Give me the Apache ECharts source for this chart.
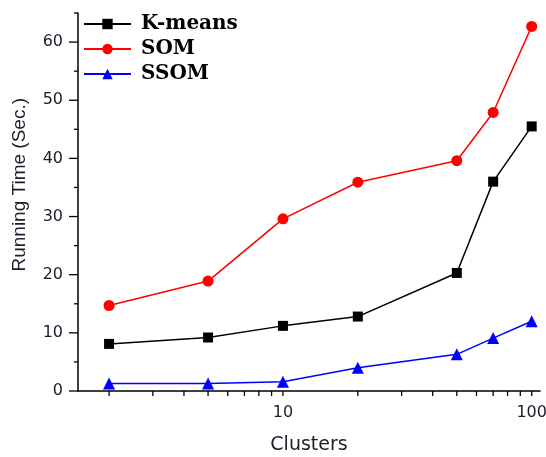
<!DOCTYPE html>
<html>
<head>
<meta charset="utf-8">
<script src="https://cdn.jsdelivr.net/npm/echarts@6/dist/echarts.min.js"></script>
<style>html,body{margin:0;padding:0;background:#fff}#c{width:546px;height:457px}</style>
</head>
<body>
<div id="c"></div>
<script>
const clusters = [2, 5, 10, 20, 50, 70, 100];
const kmeans = [8.1, 9.2, 11.2, 12.8, 20.3, 36.0, 45.5];
const som = [14.7, 18.9, 29.6, 35.9, 39.6, 47.9, 62.7];
const ssom = [1.3, 1.3, 1.6, 4.0, 6.3, 9.1, 12.0];
const xTickValues = [2,3,4,5,6,7,8,9,10,20,30,40,50,60,70,80,90,100];
const xLabelValues = [10, 100];
const yMajorTicks = [0,10,20,30,40,50,60];
const yMinorTicks = [5,15,25,35,45,55,65];

const chart = echarts.init(document.getElementById('c'));
const pair = arr => clusters.map((c, i) => [c, arr[i]]);
const labelColor = '#1c1c2a';

function tickSeries(values, kind, len) {
  return {
    type: 'custom', silent: true, clip: false, z: 5,
    data: values.map(v => kind === 'x' ? [v, 0] : [1.5, v]),
    renderItem: function (params, api) {
      const p = api.coord([api.value(0), api.value(1)]);
      if (kind === 'x') {
        return {type: 'line', shape: {x1: p[0], y1: p[1], x2: p[0], y2: p[1] + len}, style: {stroke: '#000', lineWidth: 1.3}};
      }
      return {type: 'line', shape: {x1: p[0] - len, y1: p[1], x2: p[0], y2: p[1]}, style: {stroke: '#000', lineWidth: 1.3}};
    }
  };
}

chart.setOption({
  animation: false,
  backgroundColor: '#fff',
  grid: {left: 78, right: 6, top: 13, bottom: 66, containLabel: false, outerBoundsMode: 'none'},
  legend: {
    orient: 'vertical', left: 78, top: 9, itemGap: 5,
    itemWidth: 47, itemHeight: 13,
    data: ['K-means', 'SOM', 'SSOM'],
    textStyle: {fontFamily: 'DejaVu Serif', fontWeight: 'bold', fontSize: 20, color: '#000', lineHeight: 20, padding: [0,0,0,5]}
  },
  xAxis: {
    type: 'log', logBase: 10, min: 1.5, max: 108,
    axisLine: {lineStyle: {color: '#000', width: 1.5}},
    axisTick: {show: false},
    splitLine: {show: false},
    axisLabel: {
      margin: 14, color: labelColor, fontFamily: 'DejaVu Sans', fontSize: 16,
      formatter: v => xLabelValues.some(t => Math.abs(t - v) < 1e-6) ? String(Math.round(v)) : ''
    },
    name: 'Clusters', nameLocation: 'middle', nameGap: 45,
    nameTextStyle: {fontFamily: 'DejaVu Sans', fontSize: 19, color: labelColor}
  },
  yAxis: {
    type: 'value', min: 0, max: 65, interval: 10,
    axisLine: {show: true, lineStyle: {color: '#000', width: 1.5}},
    axisTick: {show: false},
    splitLine: {show: false},
    axisLabel: {margin: 15, color: labelColor, fontFamily: 'DejaVu Sans', fontSize: 16, showMaxLabel: false}
  },
  graphic: [{
    type: 'text', left: 10, top: 98, rotation: Math.PI / 2,
    style: {text: 'Running Time (Sec.)', font: '19px "Liberation Sans"', fill: labelColor}
  }],
  series: [
    {name: 'K-means', type: 'line', data: pair(kmeans), symbol: 'rect', symbolSize: 10,
     itemStyle: {color: '#000'}, lineStyle: {color: '#000', width: 1.5}, z: 3},
    {name: 'SOM', type: 'line', data: pair(som), symbol: 'circle', symbolSize: 11,
     itemStyle: {color: '#ff0000'}, lineStyle: {color: '#ff0000', width: 1.5}, z: 3},
    {name: 'SSOM', type: 'line', data: pair(ssom), symbol: 'triangle', symbolSize: 12,
     itemStyle: {color: '#0000ff'}, lineStyle: {color: '#0000ff', width: 1.5}, z: 3},
    tickSeries(xTickValues, 'x', 5),
    tickSeries(yMajorTicks, 'y', 9),
    tickSeries(yMinorTicks, 'y', 4)
  ]
});
</script>
</body>
</html>
